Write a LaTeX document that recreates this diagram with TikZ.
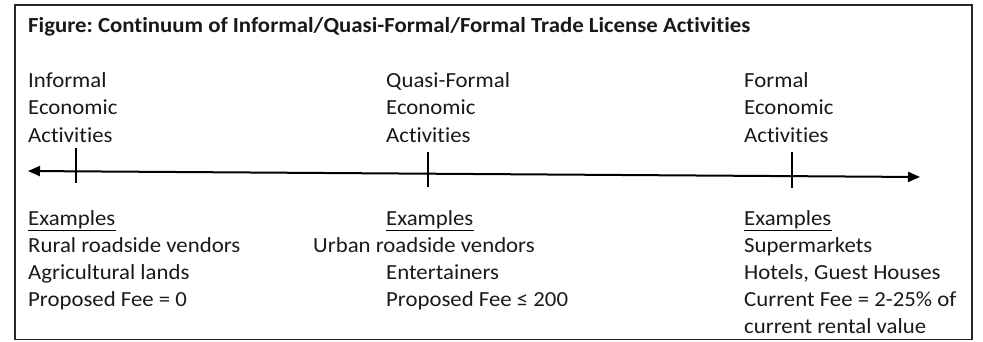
\documentclass[tikz,border=0pt]{standalone}
\usepackage{fontspec}
\setmainfont[Ligatures=NoCommon, FakeStretch=1.06]{Carlito}
\frenchspacing
\usetikzlibrary{arrows.meta}
\tikzset{
  txt/.style={anchor=base west, inner sep=0pt, font=\fontsize{21.5}{27}\selectfont, text=black!90},
  ttl/.style={txt, font=\fontsize{21.5}{27}\selectfont\bfseries},
  frame/.style={draw=black!85, line width=1.6pt},
  axis/.style={line width=2pt, {Triangle[length=12pt,width=10pt]}-{Triangle[length=12pt,width=10pt]}},
  tick/.style={line width=1.1pt},
  uline/.style={line width=1.4pt}
}
\begin{document}
\begin{tikzpicture}[x=1pt,y=-1pt]
\useasboundingbox (0,0) rectangle (983,341);
\draw[frame] (15,5) rectangle (972,339.5);
\node[ttl] (title) at (28,32) {Figure: Continuum of Informal/Quasi-Formal/Formal Trade License Activities};
% headings
\node[txt] (a1) at (28,87) {Informal};
\node[txt] (a2) at (28,114) {Economic};
\node[txt] (a3) at (28,142) {Activities};
\node[txt] (b1) at (386,87) {Quasi-Formal};
\node[txt] (b2) at (386,114) {Economic};
\node[txt] (b3) at (386,142) {Activities};
\node[txt] (c1) at (744,87) {Formal};
\node[txt] (c2) at (744,114) {Economic};
\node[txt] (c3) at (744,142) {Activities};
% axis
\coordinate (L) at (28,171);
\coordinate (R) at (920,177);
\draw[axis] (L) -- (R);
\coordinate (t1a) at (76,148); \coordinate (t1b) at (76,183);
\coordinate (t2a) at (428,152); \coordinate (t2b) at (428,187);
\coordinate (t3a) at (792,152); \coordinate (t3b) at (792,188);
\draw[tick] (t1a) -- (t1b);
\draw[tick] (t2a) -- (t2b);
\draw[tick] (t3a) -- (t3b);
% examples
\node[txt] (e1) at (28,225) {Examples};
\node[txt] (e2) at (386,225) {Examples};
\node[txt] (e3) at (744,225) {Examples};
\draw[uline] ([yshift=-5.5pt]e1.base west) -- ([yshift=-5.5pt]e1.base east);
\draw[uline] ([yshift=-5.5pt]e2.base west) -- ([yshift=-5.5pt]e2.base east);
\draw[uline] ([yshift=-5.5pt]e3.base west) -- ([yshift=-5.5pt]e3.base east);
\node[txt] (p1) at (28,252) {Rural roadside vendors};
\node[txt] (p2) at (28,279) {Agricultural lands};
\node[txt] (p3) at (28,306) {Proposed Fee = 0};
\node[txt] (q1) at (313,252) {Urban roadside vendors};
\node[txt] (q2) at (386,279) {Entertainers};
\node[txt] (q3) at (386,306) {Proposed Fee ≤ 200};
\node[txt] (r1) at (744,252) {Supermarkets};
\node[txt] (r2) at (744,279) {Hotels, Guest Houses};
\node[txt] (r3) at (744,306) {Current Fee = 2-25\% of};
\node[txt] (r4) at (744,333) {current rental value};
\end{tikzpicture}
\end{document}
